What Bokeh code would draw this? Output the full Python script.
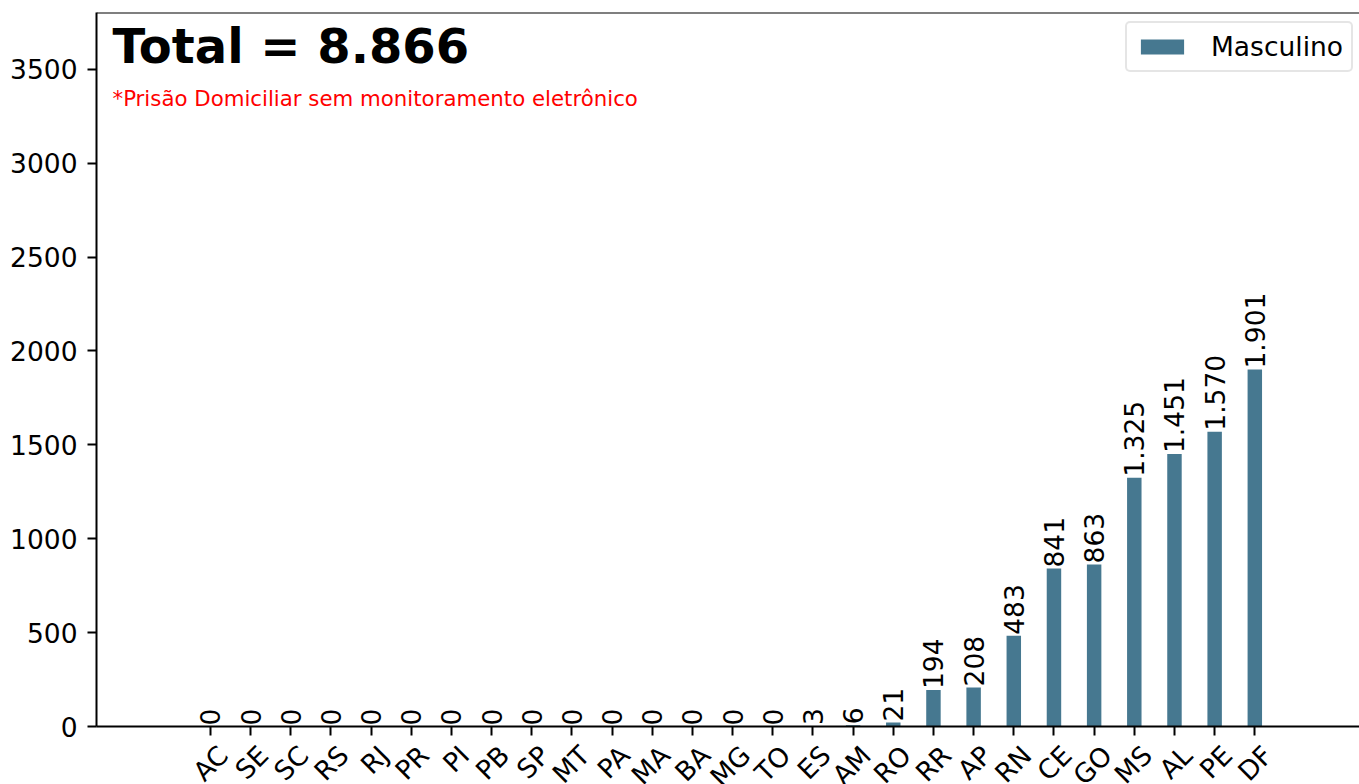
import math
from bokeh.plotting import figure
from bokeh.models import ColumnDataSource, Range1d, FixedTicker, LabelSet, Label, Span
from bokeh.core.properties import value
from bokeh.embed import file_html
from bokeh.resources import INLINE

# ---- data ----
states = ["AC", "SE", "SC", "RS", "RJ", "PR", "PI", "PB", "SP", "MT", "PA", "MA", "BA", "MG",
          "TO", "ES", "AM", "RO", "RR", "AP", "RN", "CE", "GO", "MS", "AL", "PE", "DF"]
masculino = [0, 0, 0, 0, 0, 0, 0, 0, 0, 0, 0, 0, 0, 0,
             0, 3, 6, 21, 194, 208, 483, 841, 863, 1325, 1451, 1570, 1901]
y_ticks = [0, 500, 1000, 1500, 2000, 2500, 3000, 3500]
series_name = "Masculino"
total_text = "Total = 8.866"
note_text = "*Prisão Domiciliar sem monitoramento eletrônico"

FONT = "DejaVu Sans"
BAR_COLOR = "#467890"
FS = "26.5px"

idx = list(range(len(states)))
bar_labels = [f"{v:,}".replace(",", ".") for v in masculino]
src = ColumnDataSource(dict(x=idx, top=masculino, label=bar_labels))

p = figure(frame_width=1263, frame_height=714,
           x_range=Range1d(-2.835, 28.606), y_range=Range1d(0, 3802),
           output_backend="svg", toolbar_location=None,
           min_border_left=96, min_border_right=0, min_border_top=12, min_border_bottom=0)
p.xgrid.visible = False
p.ygrid.visible = False
p.outline_line_color = None
p.background_fill_color = "white"
p.border_fill_color = "white"

p.vbar(x="x", top="top", width=0.36, source=src, fill_color=BAR_COLOR,
       line_color=None, legend_label=series_name)

# top border line of the frame
p.add_layout(Span(location=3802, dimension="width", line_color="black", line_width=2))

# x axis: tick marks at categories (minor), labels shifted so rotated text is centred
shift = 0.32
xa = p.xaxis[0]
label_pos = [round(i + shift, 3) for i in idx]
xa.ticker = FixedTicker(ticks=label_pos, minor_ticks=idx)
xa.major_label_overrides = {pos: s for pos, s in zip(label_pos, states)}
xa.major_tick_line_color = None
xa.major_tick_out = 0
xa.major_tick_in = 0
xa.minor_tick_line_color = "black"
xa.minor_tick_line_width = 2
xa.minor_tick_out = 9
xa.minor_tick_in = 0
xa.major_label_orientation = math.pi / 4
xa.major_label_text_font = FONT
xa.major_label_text_font_size = FS
xa.major_label_text_color = "black"
xa.major_label_standoff = 15
xa.axis_line_color = "black"
xa.axis_line_width = 2

ya = p.yaxis[0]
ya.ticker = FixedTicker(ticks=y_ticks)
ya.major_tick_out = 9
ya.major_tick_in = 0
ya.major_tick_line_width = 2
ya.major_tick_line_color = "black"
ya.minor_tick_line_color = None
ya.major_label_text_font = FONT
ya.major_label_text_font_size = FS
ya.major_label_text_color = "black"
ya.major_label_standoff = 10
ya.axis_line_color = "black"
ya.axis_line_width = 2

# value labels above bars
p.add_layout(LabelSet(x="x", y="top", text="label", source=src, angle=math.pi / 2,
                      text_align="left", text_baseline="middle", y_offset=1,
                      text_font=value(FONT), text_font_size=FS, text_color="black"))

# annotation texts
p.add_layout(Label(x=16, y=681, x_units="screen", y_units="screen", text=total_text,
                   text_font=FONT, text_font_size="48px", text_font_style="bold",
                   text_color="black", text_baseline="alphabetic"))
p.add_layout(Label(x=16, y=628, x_units="screen", y_units="screen", text=note_text,
                   text_font=FONT, text_font_size="21.3px", text_color="red",
                   text_baseline="alphabetic"))

leg = p.legend[0]
leg.location = (1029, 654)
leg.glyph_width = 54
leg.glyph_height = 19
leg.label_standoff = 22
leg.padding = 8
leg.margin = 0
leg.spacing = 0
leg.label_height = 27
leg.label_text_font = FONT
leg.label_text_font_size = FS
leg.label_text_color = "black"
leg.border_line_color = "#cccccc"
leg.border_line_width = 2
leg.background_fill_color = "white"
leg.background_fill_alpha = 0.8
if "border_radius" in leg.properties():
    leg.border_radius = 5

open("out.html", "w").write(file_html(p, INLINE))
